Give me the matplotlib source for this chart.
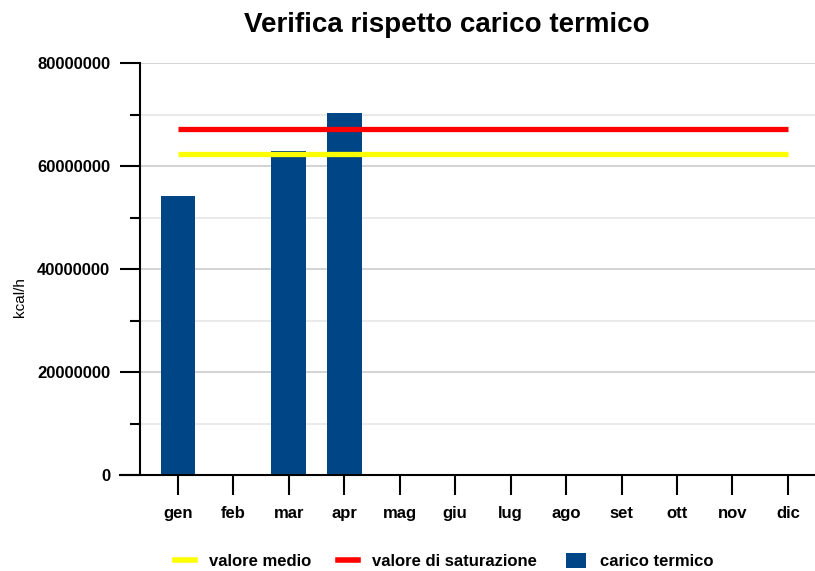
import matplotlib
matplotlib.use("Agg")
import matplotlib.pyplot as plt
from matplotlib.lines import Line2D
from matplotlib.patches import Patch
import numpy as np

months = ["gen", "feb", "mar", "apr", "mag", "giu", "lug", "ago", "set", "ott", "nov", "dic"]
carico = [54200000, 0, 62900000, 70300000, 0, 0, 0, 0, 0, 0, 0, 0]
valore_medio = 62400000
valore_saturazione = 67200000
yticks_major = [0, 20000000, 40000000, 60000000, 80000000]

plt.rcParams['font.family'] = ['Liberation Sans', 'DejaVu Sans']

W, H = 815, 571
fig = plt.figure(figsize=(W/100, H/100), dpi=100)
ax = fig.add_axes([140/W, 96/H, 1 - 140/W, (475-63)/H])

x = np.arange(len(months))
ax.set_xlim(-0.685, 11.49)
ax.set_ylim(0, 80000000)

# gridlines
for v in np.arange(10000000, 80000001, 10000000):
    col = '#cccccc' if v % 20000000 == 0 else '#e6e6e6'
    ax.axhline(v, color=col, lw=1.2, zorder=0)

ax.bar(x, carico, width=0.63, color='#004586', zorder=2)
ax.plot([x[0], x[-1]], [valore_medio]*2, color='#ffff00', lw=3.8, zorder=3, solid_capstyle='butt')
ax.plot([x[0], x[-1]], [valore_saturazione]*2, color='#ff0000', lw=3.8, zorder=3, solid_capstyle='butt')

ax.set_xticks(x)
ax.set_xticklabels(months, fontsize=12, fontweight='bold')
ax.set_yticks(yticks_major)
ax.set_yticklabels([str(v) for v in yticks_major], fontsize=12, fontweight='bold')
ax.set_yticks(np.arange(10000000, 80000000, 20000000), minor=True)
ax.tick_params(axis='y', which='major', length=14.4, width=1.5, pad=7)
ax.tick_params(axis='y', which='minor', length=7.2, width=1.5)
ax.tick_params(axis='x', which='major', length=14.4, width=1.5, pad=8, direction='out')

for s in ['top', 'right']:
    ax.spines[s].set_visible(False)
ax.spines['left'].set_linewidth(1.5)
ax.spines['bottom'].set_linewidth(1.5)
ax.spines['bottom'].set_bounds(-0.685 - 20/55.45, 11.49)
ax.spines['bottom'].set_clip_on(False)

ax.set_ylabel('kcal/h', fontsize=11)
ax.yaxis.set_label_coords((27-140)/(W-140), (475-297)/412)

fig.suptitle('Verifica rispetto carico termico', fontsize=20, fontweight='bold',
             x=446.5/W, y=1-25/H, va='center')

legend_items = [
    (Line2D([0], [0], color='#ffff00', lw=4), 'valore medio', 175),
    (Line2D([0], [0], color='#ff0000', lw=4), 'valore di saturazione', 338),
    (Patch(facecolor='#004586'), 'carico termico', 566),
]
for h, lab, px in legend_items:
    fig.legend([h], [lab], loc='center left', bbox_to_anchor=(px/W, 1-561/H),
               frameon=False, prop={'weight': 'bold', 'size': 12},
               handlelength=1.2, handleheight=1.0, handletextpad=0.84,
               borderpad=0, borderaxespad=0)

fig.savefig('out.png', dpi=100)
